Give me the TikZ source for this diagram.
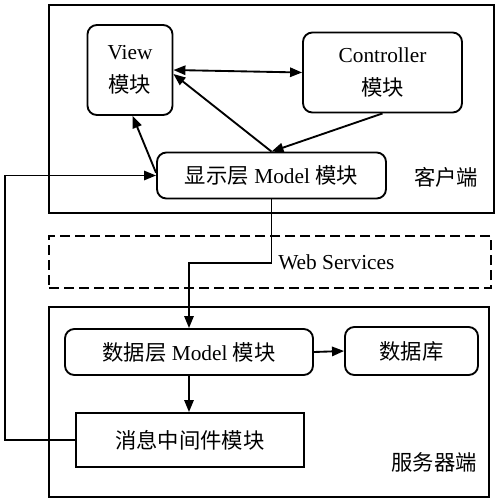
\documentclass[tikz,border=0pt]{standalone}
\usepackage{fontspec}
\setmainfont{Liberation Serif}
\newfontfamily\cjk{Noto Sans CJK SC}
\usetikzlibrary{arrows.meta}
\begin{document}
\begin{tikzpicture}[x=0.75pt,y=-0.75pt,
  font=\fontsize{16}{25}\selectfont,
  lw/.style={line width=1.4pt},
  frame/.style={draw,lw,inner sep=0pt},
  rbox/.style={draw,lw,rounded corners=7pt,align=center,inner sep=0pt},
  sbox/.style={draw,lw,align=center,inner sep=0pt},
  conn/.style={lw,-{Triangle[length=9pt,width=7pt]}},
  dconn/.style={lw,{Triangle[length=9pt,width=7pt]}-{Triangle[length=9pt,width=7pt]}}
]
\useasboundingbox (0,0) rectangle (500,501);
% frames
\node[frame,minimum width=333.75pt,minimum height=156pt] (client) at (271.5,109) {};
\node[frame,dash pattern=on 7.5pt off 3.75pt,minimum width=331.5pt,minimum height=39pt] (web) at (270,262) {};
\node[frame,minimum width=330pt,minimum height=142.5pt] (server) at (269,402) {};
% labels
\node (clientlbl) at (446,177) {\cjk 客户端};
\node[anchor=west,inner sep=0pt] (weblbl) at (278,262) {Web Services};
\node (serverlbl) at (434,462) {\cjk 服务器端};
% client modules
\node[rbox,minimum width=63.75pt,minimum height=67.5pt] (view) at (130,70) {View\\{\cjk 模块}};
\node[rbox,minimum width=119.25pt,minimum height=60pt] (ctrl) at (382.5,72.5) {Controller\\{\cjk 模块}};
\node[rbox,minimum width=171.75pt,minimum height=34.5pt] (dmodel) at (271.5,175.5) {{\cjk 显示层} Model {\cjk 模块}};
% server modules
\node[rbox,minimum width=186pt,minimum height=34.5pt] (datamodel) at (189,352) {{\cjk 数据层} Model {\cjk 模块}};
\node[rbox,minimum width=99.75pt,minimum height=36pt] (db) at (411.5,351) {\cjk 数据库};
\node[sbox,minimum width=171pt,minimum height=40.5pt] (msg) at (190,440) {\cjk 消息中间件模块};
% connectors
\draw[dconn] (view.east) -- (ctrl.west);
\draw[conn] (dmodel.north) -- ([yshift=-3pt]view.east);
\draw[conn] (ctrl.south) -- (dmodel.north);
\draw[conn] ([yshift=2pt]dmodel.west) -- ([xshift=2pt]view.south);
\coordinate (fb) at (5,440);
\draw[conn] (msg.west) -- (fb) |- (dmodel.west);
\coordinate (bend) at (271.5,263);
\draw[conn] (dmodel.south) -- (bend) -| (datamodel.north);
\draw[conn] (datamodel.east) -- (db.west);
\draw[conn] (datamodel.south) -- (datamodel.south |- msg.north);
\end{tikzpicture}
\end{document}
